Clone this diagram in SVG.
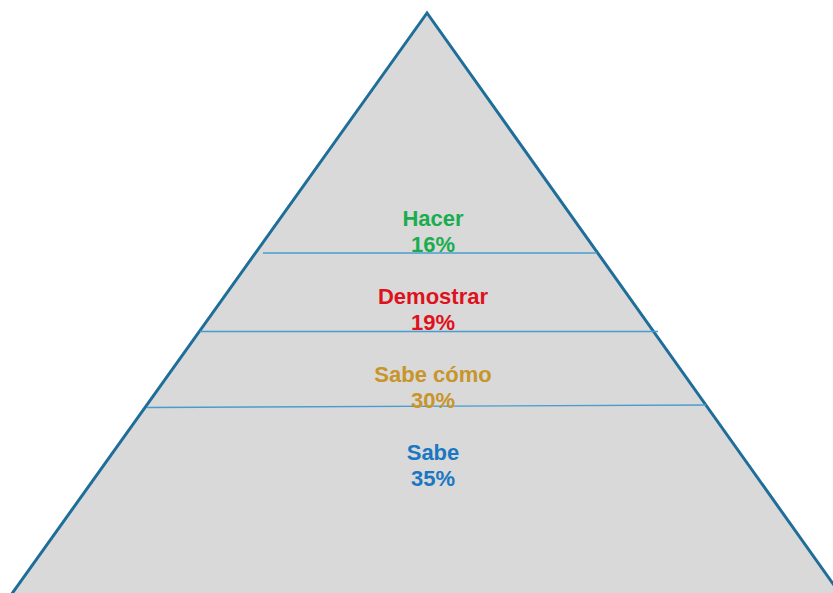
<svg xmlns="http://www.w3.org/2000/svg" width="833" height="593" viewBox="0 0 833 593">
<style>
.lbl{font-family:"Liberation Sans",Arial,sans-serif;font-weight:bold;font-size:22px;text-anchor:middle}
.sep{stroke:#4a9ccf;stroke-width:1.3;fill:none}
</style>
<rect width="833" height="593" fill="#ffffff"/>
<g id="pyramid">
<polygon points="427,13 11,595 841,595" fill="#d9d9d9" stroke="#1f6e9a" stroke-width="3" stroke-linejoin="miter"/>
</g>
<g id="connectors">
<line class="sep" x1="263" y1="253" x2="597" y2="253"/>
<line class="sep" x1="200" y1="331.5" x2="658" y2="331.5"/>
<line class="sep" x1="147" y1="407.5" x2="706" y2="405"/>
</g>
<g id="hacer"><text class="lbl" fill="#1aad4f" x="433" y="225.5">Hacer</text><text class="lbl" fill="#1aad4f" x="433" y="251.5">16%</text></g>
<g id="demostrar"><text class="lbl" fill="#de121c" x="433" y="304">Demostrar</text><text class="lbl" fill="#de121c" x="433" y="330">19%</text></g>
<g id="sabecomo"><text class="lbl" fill="#c7952a" x="433" y="381.5">Sabe cómo</text><text class="lbl" fill="#c7952a" x="433" y="408">30%</text></g>
<g id="sabe"><text class="lbl" fill="#1a77c1" x="433" y="460">Sabe</text><text class="lbl" fill="#1a77c1" x="433" y="485.5">35%</text></g>
</svg>
